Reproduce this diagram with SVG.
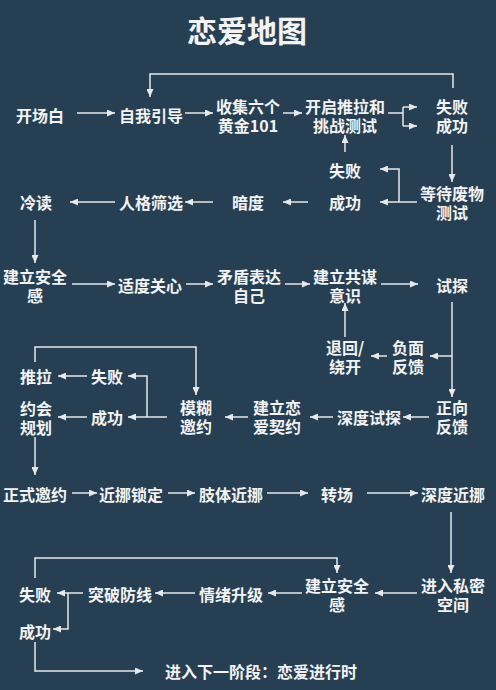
<svg xmlns="http://www.w3.org/2000/svg" width="496" height="690" viewBox="0 0 496 690">
<defs>
<marker id="ah" markerUnits="userSpaceOnUse" markerWidth="8" markerHeight="7" refX="8" refY="3.5" orient="auto">
<path d="M0,0 L8,3.5 L0,7 z" fill="#e6e8ea"/>
</marker>
<style>
text{font-family:"Noto Sans CJK SC","Noto Sans",sans-serif;font-size:16px;font-weight:bold;fill:#f2f3f4;text-anchor:middle;dominant-baseline:central}
.title{font-size:30px}
#connectors path{fill:none;stroke:#e6e8ea;stroke-width:1.5}
.a{marker-end:url(#ah)}
</style>
</defs>
<rect width="496" height="690" fill="#273f52"/>
<text class="title" x="247" y="29">恋爱地图</text>
<g id="connectors">
<path class="a" d="M77,113 H115"/>
<path class="a" d="M185,113 H213"/>
<path class="a" d="M283,113 H302"/>
<path d="M388,113 H403 M403,107 V126"/>
<path class="a" d="M403,107 H417"/>
<path class="a" d="M403,126 H417"/>
<path class="a" d="M453,88 V74 H150 V97"/>
<path class="a" d="M452,145 V182"/>
<path class="a" d="M417,202 H380"/>
<path class="a" d="M399,202 V169 H380"/>
<path class="a" d="M345,152 V135"/>
<path class="a" d="M308,202 H283"/>
<path class="a" d="M213,202 H185"/>
<path class="a" d="M115,202 H70"/>
<path class="a" d="M35,220 V263"/>
<path class="a" d="M72,284 H115"/>
<path class="a" d="M186,284 H213"/>
<path class="a" d="M285,284 H310"/>
<path class="a" d="M381,284 H418"/>
<path class="a" d="M452,302 V397"/>
<path class="a" d="M452,356 H430"/>
<path class="a" d="M387,356 H371"/>
<path class="a" d="M345,337 V303"/>
<path class="a" d="M429,417 H403"/>
<path class="a" d="M333,417 H310"/>
<path class="a" d="M248,417 H225"/>
<path class="a" d="M167,417 H128"/>
<path class="a" d="M147,417 V376 H128"/>
<path class="a" d="M87,376 H58"/>
<path class="a" d="M87,417 H58"/>
<path class="a" d="M35,362 V347 H196 V395"/>
<path class="a" d="M35,437 V475"/>
<path class="a" d="M72,493 H97"/>
<path class="a" d="M168,493 H195"/>
<path class="a" d="M267,493 H308"/>
<path class="a" d="M367,493 H418"/>
<path class="a" d="M451,512 V573"/>
<path class="a" d="M417,593 H375"/>
<path class="a" d="M302,593 H268"/>
<path class="a" d="M195,593 H155"/>
<path class="a" d="M83,593 H57"/>
<path class="a" d="M68,593 V629 H53"/>
<path class="a" d="M35,578 V558 H337 V573"/>
<path class="a" d="M35,642 V671 H143"/>
</g>
<g id="n-kaichangbai"><text x="40" y="115">开场白</text></g>
<g id="n-ziwoyindao"><text x="151" y="115">自我引导</text></g>
<g id="n-shouji"><text x="248" y="106">收集六个</text><text x="248" y="125">黄金101</text></g>
<g id="n-tuila-test"><text x="345" y="106">开启推拉和</text><text x="345" y="125">挑战测试</text></g>
<g id="n-fail-success-1"><text x="452" y="106">失败</text><text x="452" y="125">成功</text></g>
<g id="n-feiwu"><text x="452" y="193">等待废物</text><text x="452" y="212">测试</text></g>
<g id="n-fail-2"><text x="345" y="170">失败</text></g>
<g id="n-success-2"><text x="345" y="202">成功</text></g>
<g id="n-andu"><text x="248" y="202">暗度</text></g>
<g id="n-renge"><text x="151" y="202">人格筛选</text></g>
<g id="n-lengdu"><text x="36" y="202">冷读</text></g>
<g id="n-anquan-1"><text x="35" y="276">建立安全</text><text x="35" y="295">感</text></g>
<g id="n-guanxin"><text x="150" y="285">适度关心</text></g>
<g id="n-maodun"><text x="249" y="276">矛盾表达</text><text x="249" y="295">自己</text></g>
<g id="n-gongmou"><text x="345" y="276">建立共谋</text><text x="345" y="295">意识</text></g>
<g id="n-shitan"><text x="452" y="285">试探</text></g>
<g id="n-fumian"><text x="408" y="347">负面</text><text x="408" y="366">反馈</text></g>
<g id="n-tuihui"><text x="345" y="347">退回/</text><text x="345" y="366">绕开</text></g>
<g id="n-zhengxiang"><text x="452" y="407">正向</text><text x="452" y="426">反馈</text></g>
<g id="n-shendushitan"><text x="369" y="417">深度试探</text></g>
<g id="n-qiyue"><text x="277" y="407">建立恋</text><text x="277" y="426">爱契约</text></g>
<g id="n-mohu"><text x="196" y="407">模糊</text><text x="196" y="426">邀约</text></g>
<g id="n-fail-3"><text x="107" y="376">失败</text></g>
<g id="n-success-3"><text x="107" y="417">成功</text></g>
<g id="n-tuila"><text x="36" y="376">推拉</text></g>
<g id="n-yuehui"><text x="36" y="408">约会</text><text x="36" y="427">规划</text></g>
<g id="n-zhengshi"><text x="35" y="494">正式邀约</text></g>
<g id="n-suoding"><text x="131" y="494">近挪锁定</text></g>
<g id="n-zhiti"><text x="231" y="494">肢体近挪</text></g>
<g id="n-zhuanchang"><text x="337" y="494">转场</text></g>
<g id="n-shendujinnuo"><text x="453" y="494">深度近挪</text></g>
<g id="n-simi"><text x="453" y="585">进入私密</text><text x="453" y="604">空间</text></g>
<g id="n-anquan-2"><text x="337" y="585">建立安全</text><text x="337" y="604">感</text></g>
<g id="n-qingxu"><text x="231" y="594">情绪升级</text></g>
<g id="n-tupo"><text x="120" y="594">突破防线</text></g>
<g id="n-fail-4"><text x="35" y="594">失败</text></g>
<g id="n-success-4"><text x="35" y="631">成功</text></g>
<g id="n-next"><text x="261" y="671">进入下一阶段：恋爱进行时</text></g>
</svg>
